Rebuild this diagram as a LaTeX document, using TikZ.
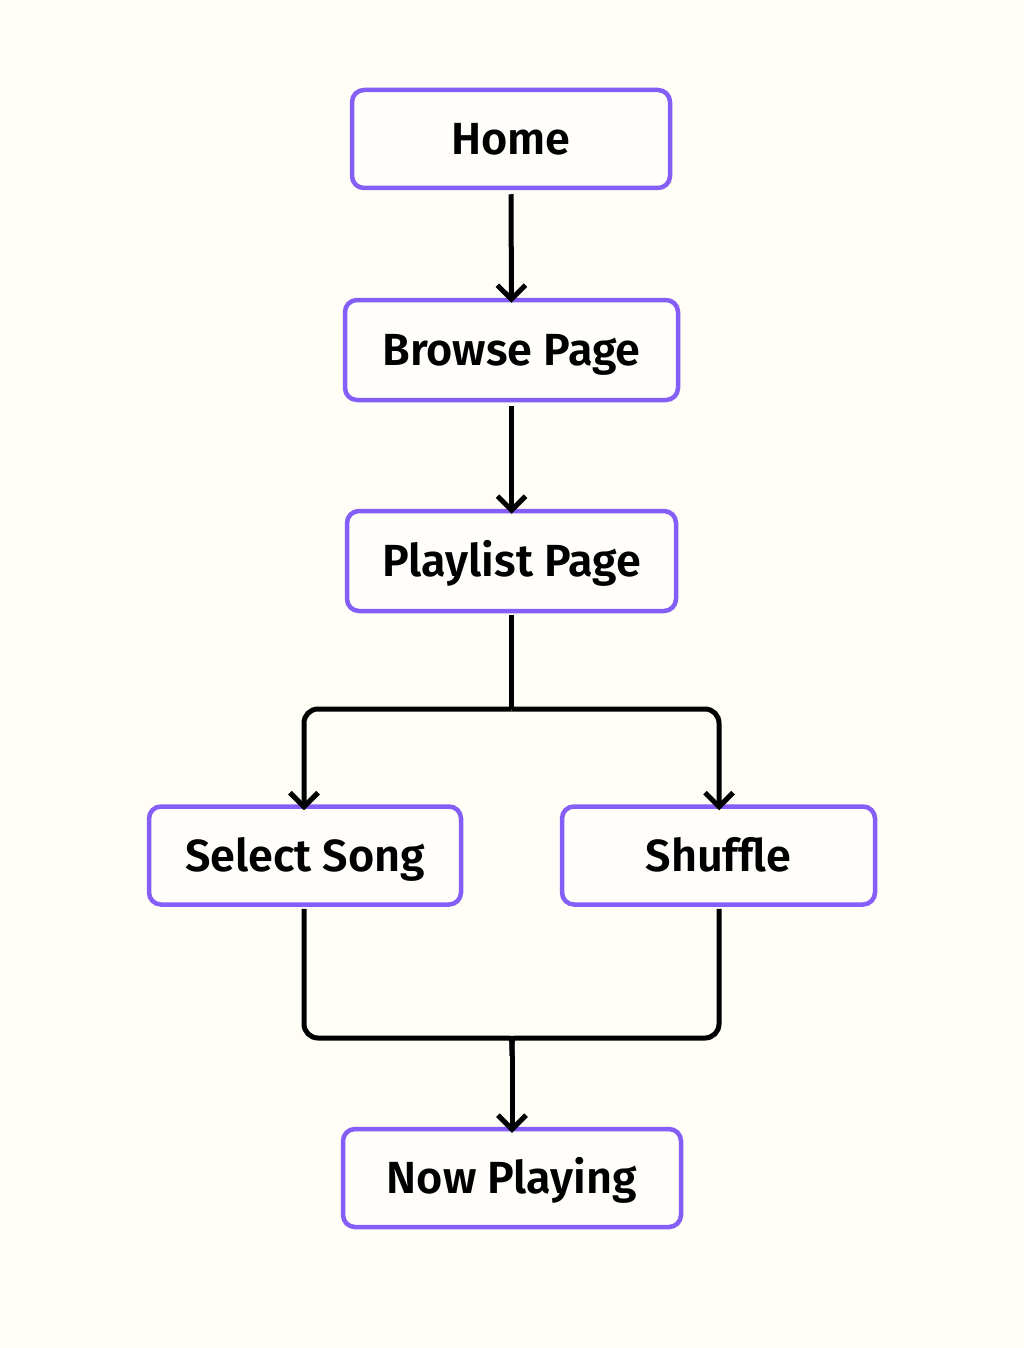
\documentclass[tikz,border=0pt]{standalone}
\usepackage{fontspec}
\setmainfont{Fira Sans}[UprightFont=* Medium, BoldFont=* SemiBold]
\usetikzlibrary{arrows.meta,positioning}
\definecolor{bgc}{RGB}{254,253,246}
\definecolor{boxc}{RGB}{132,94,247}
\tikzset{
  flowbox/.style={draw=boxc, line width=4.5pt, rounded corners=12pt, fill=white!60!bgc,
    minimum height=98pt, inner sep=0pt, text height=31pt, text depth=-3pt,
    font=\fontsize{45}{54}\selectfont\bfseries, text=black},
  conn/.style={draw=black, line width=5pt, rounded corners=14pt},
  arr/.style={conn, -{Straight Barb[length=14pt,width=28pt,line width=5pt]}}
}
\begin{document}
\begin{tikzpicture}[x=1pt,y=-1pt]
\fill[bgc] (0,0) rectangle (1024,1348);
\useasboundingbox (0,0) rectangle (1024,1348);
\node[flowbox, minimum width=318pt] (home) at (511,139) {Home};
\node[flowbox, minimum width=333pt, minimum height=100pt] (browse) at (511.5,350) {Browse Page};
\node[flowbox, minimum width=329pt, minimum height=100pt] (playlist) at (511.5,561) {Playlist Page};
\node[flowbox, minimum width=312pt] (select) at (305,855.5) {Select Song};
\node[flowbox, minimum width=313pt] (shuffle) at (718.5,855.5) {Shuffle};
\node[flowbox, minimum width=338pt] (now) at (512,1178) {Now Playing};
\coordinate (split) at (511.5,709);
\coordinate (merge) at (512,1038);
\draw[arr] ([yshift=-4pt]home.south) -- ([yshift=-5pt]browse.north);
\draw[arr] ([yshift=-4pt]browse.south) -- ([yshift=-5pt]playlist.north);
\draw[conn] ([yshift=-2pt]playlist.south) -- (split);
\draw[arr] (split) -| ([xshift=-1pt,yshift=-6pt]select.north);
\draw[arr] (split) -| ([xshift=0.5pt,yshift=-6pt]shuffle.north);
\draw[conn] ([xshift=-1pt,yshift=-2pt]select.south) |- ([xshift=-18pt]merge) .. controls (merge) .. ([yshift=-18pt]merge);
\draw[conn] ([xshift=0.5pt,yshift=-2pt]shuffle.south) |- ([xshift=18pt]merge) .. controls (merge) .. ([yshift=-18pt]merge);
\draw[arr] ([yshift=-18pt]merge) -- ([yshift=-6pt]now.north);
\end{tikzpicture}
\end{document}
